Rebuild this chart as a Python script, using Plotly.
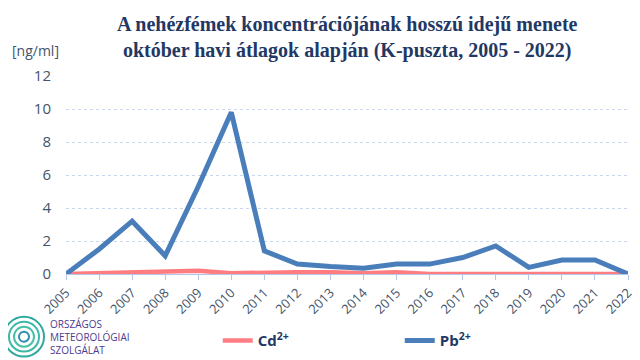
import plotly.graph_objects as go

years = [str(y) for y in range(2005, 2023)]
cd = [0.0, 0.05, 0.05, 0.1, 0.2, 0.05, 0.1, 0.1, 0.1, 0.05, 0.1, 0.0, 0.0, 0.0, 0.05, 0.05, 0.05, 0.0]
pb = [0.0, 1.5, 3.2, 1.1, 5.3, 9.8, 1.4, 0.6, 0.45, 0.35, 0.6, 0.6, 1.0, 1.7, 0.4, 0.85, 0.85, 0.0]
y_ticks = [0, 2, 4, 6, 8, 10, 12]

title_text = ("<b>A nehézfémek koncentrációjának hosszú idejű menete<br>"
              "október havi átlagok alapján (K-puszta, 2005 - 2022)</b>")

fig = go.Figure()
fig.add_trace(go.Scatter(x=years, y=cd, mode="lines", name="<b>Cd<sup>2+</sup></b>",
                         line=dict(color="#FF7C80", width=4.5), cliponaxis=False))
fig.add_trace(go.Scatter(x=years, y=pb, mode="lines", name="<b>Pb<sup>2+</sup></b>",
                         line=dict(color="#4A7EBB", width=5), cliponaxis=False))

fig.update_layout(
    width=640, height=360,
    margin=dict(l=58, r=20, t=68, b=93),
    paper_bgcolor="white", plot_bgcolor="white",
    font=dict(family="Open Sans", color="#44546A", size=13),
    showlegend=True,
    legend=dict(orientation="h", x=0.27, y=-0.33, xanchor="left", yanchor="middle",
                entrywidth=137, entrywidthmode="pixels",
                font=dict(size=15, color="#1F3864", family="Open Sans"),
                bgcolor="rgba(0,0,0,0)"),
    title=dict(text=title_text, x=0.53, xanchor="center", y=0.936, yanchor="middle",
               font=dict(family="Liberation Serif", size=20, color="#1F3864")),
)
fig.update_xaxes(type="category", range=[0, 17], showgrid=False,
                 showline=True, linecolor="#B4C7E7", linewidth=1,
                 ticks="outside", ticklen=5, tickcolor="#B4C7E7",
                 tickangle=-45, tickfont=dict(size=13, color="#44546A"))
fig.update_yaxes(range=[0, 12], tickvals=y_ticks, showgrid=True,
                 gridcolor="#C9D7EE", griddash="dot", gridwidth=1,
                 zeroline=False, showline=False,
                 tickfont=dict(size=15, color="#44546A"), ticks="", ticklabelstandoff=14)

fig.add_annotation(text="[ng/ml]", xref="paper", yref="paper", x=-0.1, y=1.13,
                   xanchor="left", yanchor="middle", showarrow=False,
                   font=dict(size=14, color="#44546A", family="Open Sans"))

# logo: concentric arcs + text (screen pixel positions converted to paper coords)
px_x = lambda v: (v - 66) / 562
px_y = lambda v: (275 - v) / 199
for r, c in [(20, "#2FA8A0"), (15, "#3DB8A8"), (10, "#49C0A8"), (5, "#2E8FB0")]:
    fig.add_shape(type="circle", xref="paper", yref="paper",
                  x0=px_x(24 - r), x1=px_x(24 + r),
                  y0=px_y(338 + r), y1=px_y(338 - r),
                  line=dict(color=c, width=2))
fig.add_annotation(text="ORSZÁGOS<br>METEOROLÓGIAI<br>SZOLGÁLAT", xref="paper", yref="paper",
                   x=px_x(48), y=px_y(338), xanchor="left", yanchor="middle",
                   align="left", showarrow=False,
                   font=dict(size=10, color="#4B3B8F", family="Open Sans"))

fig.write_html("out.html")
